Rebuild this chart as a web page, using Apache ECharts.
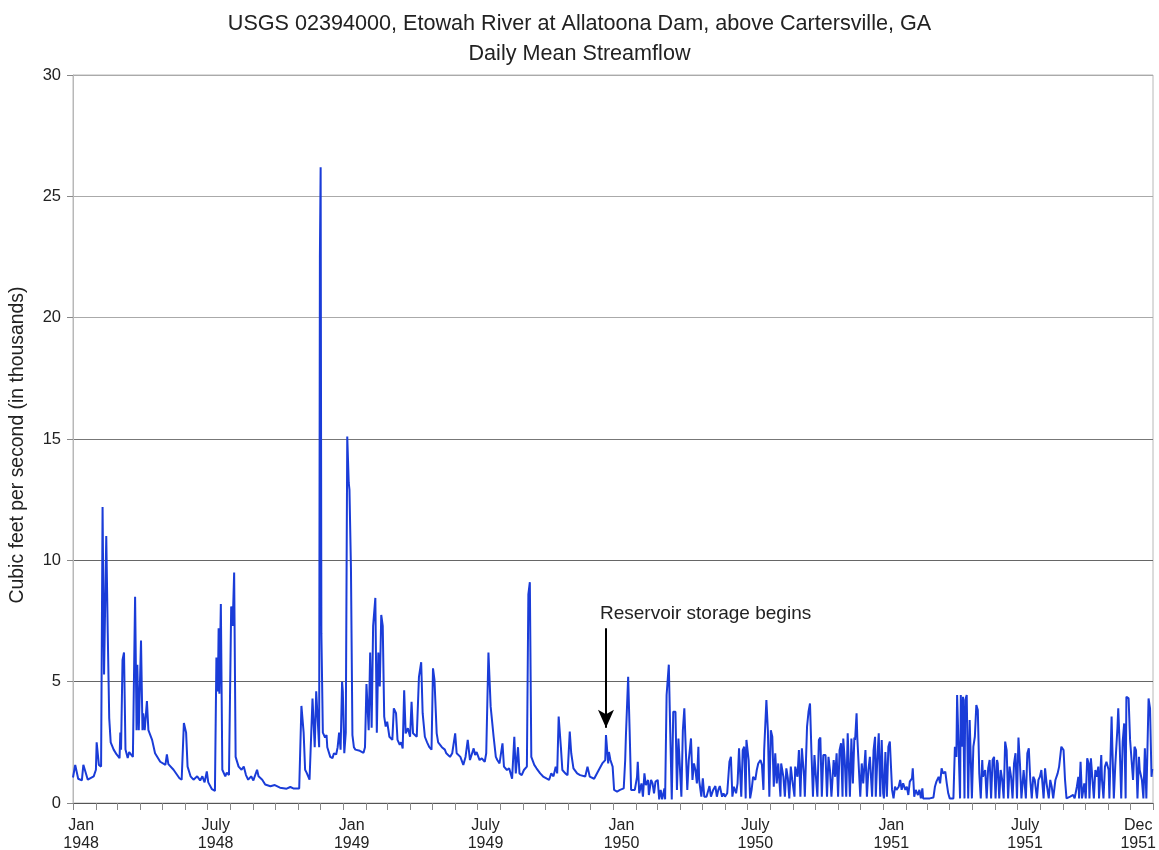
<!DOCTYPE html>
<html>
<head>
<meta charset="utf-8">
<title>Etowah River at Allatoona Dam — Daily Mean Streamflow</title>
<script src="https://cdn.jsdelivr.net/npm/echarts@6/dist/echarts.min.js"></script>
<style>
  html, body { margin: 0; padding: 0; background: #fff; }
  #chart { width: 1159px; height: 850px; }
</style>
</head>
<body>
<div id="chart"></div>
<script>
// Day number counted from 1 January 1948 (day 0) for each reading.
const dayIndex = [
  0,3,7,12,14,16,20,28,31,32,35,38,40,42,45,47,49,51,53,55,59,63,64,65,67,69,71,74,76,81,
  84,86,87,89,92,94,95,97,100,102,107,111,118,125,127,129,136,144,147,150,153,155,159,163,168,172,175,178,181,183,
  188,192,194,196,197,198,200,202,206,208,211,214,216,218,220,224,228,231,234,237,241,244,249,251,256,260,267,273,280,289,
  294,298,306,309,312,314,316,320,324,327,329,331,333,334,335,336,338,341,343,344,348,351,353,356,358,360,362,364,365,367,
  369,371,373,374,376,378,380,382,388,393,395,397,400,402,404,406,409,411,413,415,417,419,421,423,425,428,432,434,437,439,
  442,444,446,448,450,453,456,458,460,465,468,471,473,476,479,482,485,487,489,492,494,499,503,505,510,513,517,519,524,528,
  531,534,537,542,544,546,550,553,557,559,562,565,567,569,572,574,577,581,583,587,590,592,594,597,599,602,604,607,610,614,
  616,618,620,624,627,632,636,641,644,647,650,653,655,657,660,662,666,669,672,674,677,682,686,693,696,699,705,710,716,720,
  721,724,725,727,730,732,736,740,745,747,748,750,751,753,755,760,763,764,766,769,771,773,775,778,779,782,784,786,788,791,
  793,795,797,800,801,803,805,806,808,810,812,815,817,819,821,823,825,827,829,831,833,836,838,840,842,844,846,847,850,852,
  854,857,861,863,866,869,871,873,875,878,880,882,885,888,890,892,894,897,899,901,902,904,906,908,910,911,914,916,918,920,
  923,925,927,930,932,934,935,938,940,942,944,946,948,950,952,954,957,958,961,963,965,967,969,971,973,976,977,980,982,984,
  986,989,990,993,995,997,999,1001,1003,1005,1007,1009,1011,1013,1015,1018,1020,1022,1024,1026,1029,1031,1033,1035,1037,1039,1041,1042,1044,1046,
  1048,1050,1051,1053,1055,1057,1058,1060,1061,1063,1065,1067,1069,1072,1074,1076,1078,1081,1083,1085,1086,1088,1090,1092,1094,1096,1097,1099,1101,1103,
  1105,1108,1110,1112,1114,1117,1119,1121,1123,1126,1128,1130,1132,1135,1136,1138,1140,1143,1145,1147,1149,1150,1155,1159,1164,1166,1168,1171,1173,1175,
  1177,1180,1182,1184,1186,1191,1193,1195,1196,1198,1200,1201,1203,1204,1206,1207,1209,1210,1211,1213,1214,1216,1218,1220,1222,1224,1226,1228,1230,1231,
  1234,1236,1238,1240,1242,1244,1246,1248,1250,1251,1253,1255,1257,1259,1261,1263,1265,1267,1269,1271,1273,1275,1277,1279,1281,1283,1286,1287,1289,1291,
  1293,1295,1297,1299,1301,1304,1306,1308,1310,1313,1315,1317,1320,1322,1324,1326,1329,1332,1334,1337,1340,1342,1344,1349,1351,1353,1355,1358,1360,1361,
  1363,1365,1368,1370,1372,1374,1375,1377,1379,1381,1383,1385,1387,1388,1391,1392,1394,1396,1398,1401,1402,1405,1406,1408,1410,1413,1414,1416,1418,1420,
  1422,1424,1425,1428,1430,1432,1434,1436,1438,1440,1442,1443,1446,1448,1450,1452,1455,1457,1459,1460
];

// Daily mean streamflow, thousands of cubic feet per second.
const flowThousands = [
  1.05,1.57,1.0,0.93,1.57,1.37,0.96,1.1,1.37,2.5,1.57,1.5,12.2,5.3,11.0,7.0,3.5,2.5,2.45,2.2,2.0,1.85,2.9,2.2,5.9,6.2,2.2,1.85,2.1,1.9,
  8.5,3.0,5.7,3.0,6.7,3.0,3.7,3.0,4.2,3.0,2.6,2.05,1.7,1.57,2.0,1.6,1.37,1.02,0.96,3.3,2.9,1.5,1.1,0.96,1.1,0.93,1.1,0.85,1.3,0.85,
  0.57,0.5,6.0,4.6,7.2,4.5,8.2,1.37,1.1,1.25,1.15,8.1,7.3,9.5,1.9,1.5,1.37,1.5,1.15,0.96,1.1,0.93,1.37,1.1,0.96,0.76,0.69,0.74,0.63,0.59,
  0.66,0.6,0.6,4.0,2.9,1.37,1.25,0.96,4.3,2.3,4.6,4.6,2.3,22.5,26.2,7.0,2.9,2.7,2.8,2.3,1.9,1.85,2.05,2.0,2.3,2.9,2.2,5.0,4.6,2.05,
  2.9,15.1,13.2,12.9,9.7,2.8,2.3,2.2,2.15,2.07,2.3,4.9,3.0,6.2,3.1,7.3,8.45,2.9,6.2,4.8,7.75,7.3,3.56,3.15,3.35,2.73,2.6,3.9,3.7,2.6,
  2.4,2.5,2.25,4.65,2.87,3.08,2.73,4.17,2.87,2.73,5.2,5.8,3.7,2.73,2.5,2.3,2.2,5.55,5.07,2.87,2.5,2.3,2.2,2.05,1.9,2.05,2.87,2.05,1.9,1.57,
  1.9,2.6,1.77,2.25,1.98,2.1,1.77,1.84,1.7,2.05,6.2,3.97,3.9,2.73,1.9,1.77,1.63,2.46,1.5,1.36,1.43,1.22,1.0,2.73,1.22,2.3,1.22,1.15,1.36,1.5,
  8.6,9.1,1.9,1.57,1.43,1.22,1.09,1.0,0.95,1.22,1.1,1.5,1.22,3.56,2.3,1.36,1.22,1.15,2.94,2.05,1.43,1.22,1.15,1.09,1.5,1.09,1.0,1.29,1.63,1.77,
  2.8,1.63,2.1,1.77,1.5,0.54,0.47,0.54,0.6,1.77,2.8,2.8,5.2,3.0,0.54,0.54,1.08,1.7,0.4,0.81,0.26,1.22,0.74,0.95,0.33,0.95,0.81,0.4,0.88,0.95,
  0.15,0.54,0.15,0.6,0.15,4.45,4.5,5.7,2.87,0.15,3.76,3.76,0.54,2.66,2.73,0.26,3.0,3.9,2.18,0.54,1.77,2.66,0.95,1.63,1.36,0.81,2.32,0.95,0.26,1.02,
  0.26,0.26,0.7,0.26,0.54,0.7,0.26,0.54,0.7,0.26,0.4,0.26,0.4,1.7,1.9,0.26,0.67,0.4,0.81,2.25,2.18,0.26,2.18,2.32,0.19,2.6,1.77,0.19,0.54,1.08,
  0.95,1.36,1.63,1.77,1.57,0.54,2.18,4.24,3.0,0.26,3.0,2.73,0.67,2.05,0.81,1.63,0.26,1.63,1.08,0.26,1.43,1.02,0.19,1.5,0.95,0.26,1.5,1.08,2.18,0.26,
  2.25,1.08,0.26,3.15,3.76,4.1,2.05,0.26,1.98,1.08,0.26,2.6,2.7,0.26,1.98,1.98,0.26,1.9,1.36,0.26,1.77,1.08,2.05,0.26,2.18,2.46,0.26,2.66,1.77,0.26,
  2.87,2.87,0.26,2.66,0.81,2.7,2.6,3.7,2.7,2.7,0.26,1.63,0.81,2.18,0.26,1.36,1.9,0.26,2.18,2.73,0.26,1.77,2.87,0.26,2.6,0.4,0.19,2.1,0.26,2.32,
  2.53,0.54,0.19,0.67,0.54,0.67,0.95,0.54,0.81,0.54,0.67,0.33,0.88,1.02,1.43,0.26,0.54,0.33,0.54,0.19,0.6,0.19,0.19,0.19,0.23,0.67,0.88,1.08,0.81,1.43,
  1.22,1.29,0.81,0.4,0.19,0.19,2.32,1.9,4.45,4.45,0.19,4.45,2.32,4.38,0.19,4.24,4.45,4.45,0.19,3.42,3.42,0.19,2.32,2.73,4.04,3.83,1.22,0.19,1.77,1.08,
  1.36,0.19,1.43,1.77,0.19,1.77,1.9,0.19,1.77,1.63,0.19,1.36,0.95,0.19,2.53,2.18,0.19,1.5,1.08,0.19,1.63,2.05,0.19,2.7,1.63,0.19,1.36,0.95,0.19,2.05,
  2.25,0.95,0.19,1.08,0.95,0.19,0.95,1.08,1.36,0.19,1.43,0.81,0.19,0.95,0.67,0.19,0.95,1.22,1.5,2.32,2.18,0.95,0.19,0.26,0.19,0.33,0.19,0.67,1.08,0.19,
  1.7,0.19,0.81,0.19,1.84,1.63,0.19,1.84,1.77,0.19,1.36,1.08,1.5,0.19,1.98,0.95,0.19,1.5,1.7,1.36,0.19,3.56,2.32,0.19,1.57,3.15,3.9,2.32,0.19,2.53,
  3.28,0.19,4.38,4.31,2.6,1.77,0.95,2.32,2.18,0.19,1.9,1.36,0.95,0.19,2.25,0.19,4.31,3.9,1.08,1.4
];

// Value-axis ticks and gridlines (thousands of cfs).
const yTicks = [0, 5, 10, 15, 20, 25, 30];
const monthNames = ['Jan','Feb','Mar','Apr','May','June','July','Aug','Sept','Oct','Nov','Dec'];
// Month starts that carry a date label: [year, month index].
const labelledMonths = [[1948,0],[1948,6],[1949,0],[1949,6],[1950,0],[1950,6],[1951,0],[1951,6],[1951,11]];

const DAY_MS = 86400000;
const ORIGIN = Date.UTC(1948, 0, 1);
const toDay = (y, m) => Math.round((Date.UTC(y, m, 1) - ORIGIN) / DAY_MS);

// Monthly tick positions from Jan 1948 to Jan 1952.
const monthTicks = [];
for (let y = 1948; y <= 1951; y++) for (let m = 0; m < 12; m++) monthTicks.push(toDay(y, m));
monthTicks.push(toDay(1952, 0));
const lastDay = toDay(1952, 0);

// Labels sit a little to the right of their month tick.
const LABEL_SHIFT = 11;
const labelText = {};
const labelDays = labelledMonths.map(([y, m]) => {
  const d = toDay(y, m) + LABEL_SHIFT;
  labelText[d] = monthNames[m] + '\n' + y;
  return d;
});

const seriesData = dayIndex.map((d, i) => [d, flowThousands[i]]);
const storageStartDay = 721;

const FONT = '"Liberation Sans", Arial, Helvetica, sans-serif';
const chart = echarts.init(document.getElementById('chart'), null, { renderer: 'canvas' });

chart.setOption({
  animation: false,
  backgroundColor: '#ffffff',
  textStyle: { fontFamily: FONT, color: '#222' },
  title: {
    text: 'USGS 02394000, Etowah River at Allatoona Dam, above Cartersville, GA\nDaily Mean Streamflow',
    left: 'center',
    top: 4,
    textStyle: { fontFamily: FONT, fontSize: 21.6, fontWeight: 'normal', color: '#222', lineHeight: 30 }
  },
  grid: {
    left: 73, right: 6, top: 75, bottom: 47,
    outerBoundsMode: 'none',
    containLabel: false,
    show: true, borderColor: '#b8b8b8', borderWidth: 1
  },
  xAxis: {
    type: 'value',
    min: 0,
    max: lastDay,
    axisLine: { show: true, lineStyle: { color: '#555', width: 1 } },
    axisTick: { show: true, customValues: monthTicks, length: 7, lineStyle: { color: '#888' } },
    axisLabel: {
      customValues: labelDays,
      formatter: v => labelText[v] || '',
      fontFamily: FONT, fontSize: 16, color: '#222', lineHeight: 18, margin: 14
    },
    splitLine: { show: false }
  },
  yAxis: {
    type: 'value',
    min: yTicks[0],
    max: yTicks[yTicks.length - 1],
    interval: 5,
    axisLine: { show: true, lineStyle: { color: '#b8b8b8' } },
    axisTick: { show: true, length: 6, lineStyle: { color: '#888' } },
    axisLabel: { fontFamily: FONT, fontSize: 16.5, color: '#222', margin: 12 },
    splitLine: {
      show: true,
      lineStyle: { color: ['#555', '#666', '#666', '#777', '#aaa', '#aaa', '#aaa'], width: 1 }
    }
  },
  series: [{
    type: 'line',
    data: seriesData,
    showSymbol: false,
    symbol: 'none',
    smooth: false,
    sampling: false,
    lineStyle: { color: '#1a3cd8', width: 2 },
    z: 3,
    markLine: {
      silent: true,
      symbol: ['none', 'arrow'],
      symbolSize: [12, 18],
      label: { show: false },
      lineStyle: { color: '#000', width: 2, type: 'solid' },
      data: [[{ coord: [storageStartDay, 7.2] }, { coord: [storageStartDay, 3.1] }]]
    }
  }]
});

// Caption above the arrow, anchored to the same data point; rotated axis title.
const anchor = chart.convertToPixel({ seriesIndex: 0 }, [storageStartDay, 7.8]);
chart.setOption({
  graphic: [{
    type: 'text',
    x: anchor[0] - 6,
    y: anchor[1],
    style: {
      text: 'Reservoir storage begins',
      font: '19px ' + FONT,
      fill: '#222',
      verticalAlign: 'middle'
    }
  }, {
    type: 'text',
    x: 18,
    y: 445,
    rotation: Math.PI / 2,
    style: {
      text: 'Cubic feet per second (in thousands)',
      font: '19.4px ' + FONT,
      fill: '#222',
      align: 'center',
      verticalAlign: 'middle'
    }
  }]
});
</script>
</body>
</html>
